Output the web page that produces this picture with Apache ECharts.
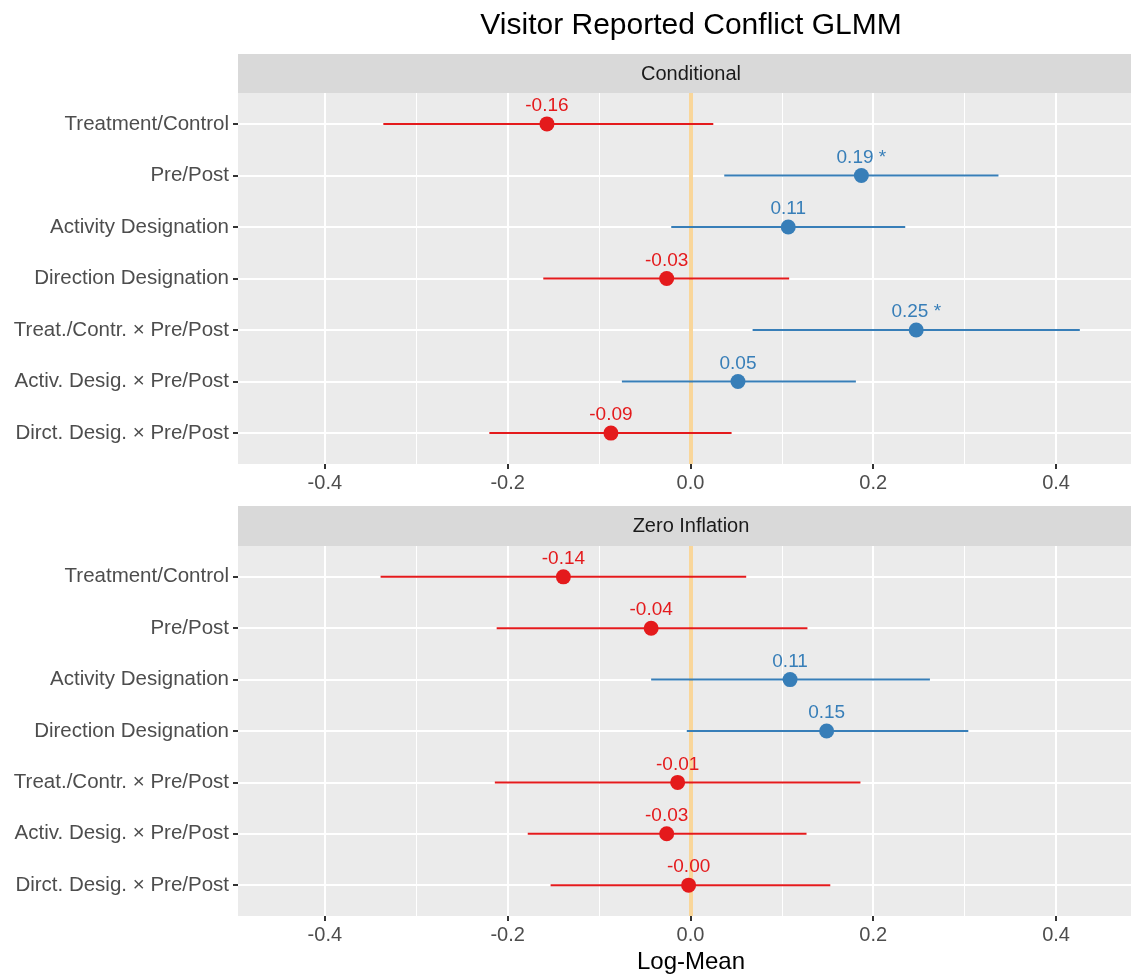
<!DOCTYPE html>
<html>
<head>
<meta charset="utf-8">
<script src="https://cdn.jsdelivr.net/npm/echarts@6/dist/echarts.min.js"></script>
<style>
  html, body { margin: 0; padding: 0; background: #fff; }
  #chart { width: 1131px; height: 976px; }
</style>
</head>
<body>
<div id="chart"></div>
<script>
// terms, top to bottom
const categories = [
    'Treatment/Control',
    'Pre/Post',
    'Activity Designation',
    'Direction Designation',
    'Treat./Contr. \u00d7 Pre/Post',
    'Activ. Desig. \u00d7 Pre/Post',
    'Dirct. Desig. \u00d7 Pre/Post'
];

// conditional model: estimate and interval
const condEst  = [-0.157, 0.187, 0.107, -0.026, 0.247, 0.052, -0.087];
const condLow  = [-0.336, 0.037, -0.021, -0.161, 0.068, -0.075, -0.220];
const condHigh = [0.025, 0.337, 0.235, 0.108, 0.426, 0.181, 0.045];

// zero inflation model
const zeroEst  = [-0.139, -0.043, 0.109, 0.149, -0.014, -0.026, -0.002];
const zeroLow  = [-0.339, -0.212, -0.043, -0.004, -0.214, -0.178, -0.153];
const zeroHigh = [0.061, 0.128, 0.262, 0.304, 0.186, 0.127, 0.153];

const xTicks = [-0.4, -0.2, 0, 0.2, 0.4];
const xMinor = [-0.3, -0.1, 0.1, 0.3];
const panelNames = ['Conditional', 'Zero Inflation'];

const RED = '#E41A1C';
const BLUE = '#377EB8';
const FONT = '"Liberation Sans", Arial, Helvetica, sans-serif';

const myChart = echarts.init(document.getElementById('chart'), null, { renderer: 'canvas' });

const panels = [
    { top: 93, height: 371, est: condEst, low: condLow, high: condHigh },
    { top: 546, height: 370, est: zeroEst, low: zeroLow, high: zeroHigh }
];

const grids = [], xAxes = [], yAxes = [], series = [];

panels.forEach((p, k) => {
    grids.push({
        left: 238, right: 0, top: p.top, height: p.height,
        show: true, backgroundColor: '#EBEBEB', borderWidth: 0
    });
    xAxes.push({
        type: 'value', gridIndex: k, min: -0.495, max: 0.482,
        axisLine: { show: false, onZero: false },
        axisTick: { show: true, customValues: xTicks, length: 5, lineStyle: { color: '#333', width: 2 } },
        axisLabel: {
            customValues: xTicks, color: '#4D4D4D', fontSize: 20, fontFamily: FONT, margin: 9,
            formatter: v => v.toFixed(1)
        },
        splitLine: { show: true, lineStyle: { color: '#fff', width: 2 } }
    });
    yAxes.push({
        type: 'value', gridIndex: k, min: -0.6, max: 6.6, inverse: true,
        axisLine: { show: false, onZero: false },
        axisTick: { show: true, customValues: [0, 1, 2, 3, 4, 5, 6], length: 5, lineStyle: { color: '#333', width: 2 } },
        axisLabel: {
            customValues: [0, 1, 2, 3, 4, 5, 6], color: '#4D4D4D', fontSize: 20.5, fontFamily: FONT, margin: 9,
            formatter: v => categories[Math.round(v)] || ''
        },
        splitLine: { show: true, lineStyle: { color: '#fff', width: 2 } }
    });

    // minor gridlines and the zero reference line
    series.push({
        type: 'scatter', xAxisIndex: k, yAxisIndex: k, data: [], silent: true, z: 1,
        markLine: {
            silent: true, symbol: 'none', z: 1, animation: false,
            label: { show: false },
            data: xMinor.map(v => ({ xAxis: v, lineStyle: { color: '#fff', width: 1, type: 'solid' } }))
                .concat([{ xAxis: 0, lineStyle: { color: '#F9D69A', width: 4, type: 'solid', opacity: 1 } }])
        }
    });

    // error bars
    series.push({
        type: 'custom', xAxisIndex: k, yAxisIndex: k, z: 3, silent: true,
        data: p.est.map((e, i) => [p.low[i], p.high[i], i, e]),
        renderItem: function (params, api) {
            const a = api.coord([api.value(0), api.value(2)]);
            const b = api.coord([api.value(1), api.value(2)]);
            return {
                type: 'line',
                shape: { x1: a[0], y1: a[1], x2: b[0], y2: b[1] },
                style: { stroke: api.value(3) < 0 ? RED : BLUE, lineWidth: 2 }
            };
        }
    });

    // point estimates with labels
    series.push({
        type: 'scatter', xAxisIndex: k, yAxisIndex: k, z: 4, symbolSize: 15,
        data: p.est.map((e, i) => {
            const sig = p.low[i] > 0 || p.high[i] < 0;
            const col = e < 0 ? RED : BLUE;
            return {
                value: [e, i],
                itemStyle: { color: col, opacity: 1 },
                label: {
                    show: true, position: 'top', distance: 1, color: col,
                    fontSize: 19, fontFamily: FONT,
                    formatter: e.toFixed(2) + (sig ? ' *' : '')
                }
            };
        })
    });
});

const option = {
    animation: false,
    grid: grids,
    xAxis: xAxes,
    yAxis: yAxes,
    series: series,
    graphic: [
        {
            type: 'text', x: 691, y: 26,
            style: { text: 'Visitor Reported Conflict GLMM', fontSize: 30, fontFamily: FONT, fill: '#000', align: 'center', verticalAlign: 'middle' }
        },
        { type: 'rect', shape: { x: 238, y: 54, width: 893, height: 39 }, style: { fill: '#D9D9D9' } },
        {
            type: 'text', x: 691, y: 74,
            style: { text: panelNames[0], fontSize: 20, fontFamily: FONT, fill: '#1A1A1A', align: 'center', verticalAlign: 'middle' }
        },
        { type: 'rect', shape: { x: 238, y: 506, width: 893, height: 40 }, style: { fill: '#D9D9D9' } },
        {
            type: 'text', x: 691, y: 526,
            style: { text: panelNames[1], fontSize: 20, fontFamily: FONT, fill: '#1A1A1A', align: 'center', verticalAlign: 'middle' }
        },
        {
            type: 'text', x: 691, y: 962,
            style: { text: 'Log-Mean', fontSize: 24, fontFamily: FONT, fill: '#000', align: 'center', verticalAlign: 'middle' }
        }
    ]
};

myChart.setOption(option);

window.addEventListener('resize', () => {
    myChart.resize();
});
</script>
</body>
</html>
